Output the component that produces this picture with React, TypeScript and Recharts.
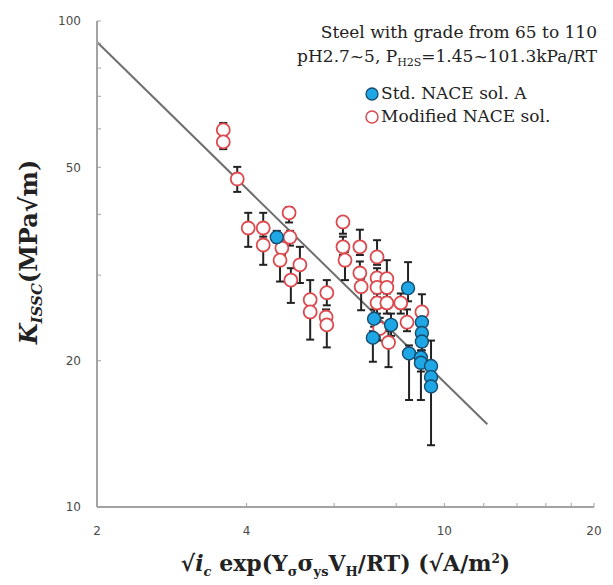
import { ScatterChart, Scatter, XAxis, YAxis, ErrorBar, ReferenceLine } from 'recharts'

// Modified NACE sol. (open red circles)
const modX = [3.59, 3.59, 3.83, 4.03, 4.32, 4.32, 4.89, 4.87, 4.71, 4.67, 5.12, 4.91, 5.37, 5.37, 5.8, 5.78, 5.8, 6.25, 6.25, 6.31, 6.76, 6.76, 6.8, 7.32, 7.32, 7.32, 7.32, 7.66, 7.66, 7.66, 8.17, 8.41, 9.01, 7.41, 7.72]
const modY = [59.7, 56.4, 47.3, 37.5, 37.5, 34.6, 35.9, 40.3, 34.1, 32.2, 31.5, 29.3, 26.7, 25.2, 27.6, 24.6, 23.7, 38.6, 34.3, 32.2, 34.3, 30.3, 28.4, 32.7, 29.6, 28.3, 26.3, 29.5, 28.3, 26.3, 26.3, 24.0, 25.2, 23.3, 21.8]
const modLo = [58.0, 54.5, 44.5, 34.3, 35.5, 31.5, 34.5, 38.5, 33.0, 29.1, 28.9, 26.3, 25.5, 22.1, 26.0, 23.8, 21.3, 36.5, 33.0, 29.3, 33.0, 29.0, 25.4, 31.5, 28.5, 27.0, 25.0, 28.5, 27.0, 25.0, 25.0, 23.0, 24.0, 22.0, 19.4]
const modHi = [61.7, 58.0, 50.1, 40.3, 40.3, 36.0, 37.0, 41.4, 35.5, 33.5, 34.3, 31.0, 29.3, 26.0, 29.3, 25.5, 24.5, 39.5, 36.0, 33.5, 37.2, 32.0, 29.5, 35.4, 31.0, 29.5, 27.5, 32.2, 29.5, 27.5, 27.5, 25.5, 27.4, 24.5, 23.0]

// Std. NACE sol. A (filled blue circles)
const stdX = [4.6, 7.22, 7.18, 7.81, 8.45, 8.49, 9.01, 9.01, 9.01, 8.97, 8.97, 9.4, 9.4, 9.4]
const stdY = [35.9, 24.4, 22.3, 23.7, 28.2, 20.7, 24.0, 22.8, 21.9, 20.3, 19.8, 19.5, 18.5, 17.7]
const stdLo = [35.0, 23.5, 19.9, 22.5, 26.5, 16.6, 23.0, 22.0, 21.0, 16.6, 19.0, 18.5, 17.5, 13.4]
const stdHi = [37.0, 25.5, 23.0, 25.0, 31.9, 21.5, 25.5, 24.0, 23.0, 21.0, 20.5, 22.0, 19.5, 18.5]

// fitted line end points
const fitX = [2, 12.2]
const fitY = [90.5, 14.8]

const xTicks = [2, 4, 6, 8, 10, 12, 14, 16, 18, 20]
const xLabels = [2, 4, 10, 20]
const yTicks = [10, 20, 30, 40, 50, 60, 70, 80, 90, 100]
const yLabels = [10, 20, 50, 100]

const rows = (xs: number[], ys: number[], lo: number[], hi: number[]) =>
    xs.map((x, i) => ({ x, y: ys[i], err: [ys[i] - lo[i], hi[i] - ys[i]] }))

const modData = rows(modX, modY, modLo, modHi)
const stdData = rows(stdX, stdY, stdLo, stdHi)

const RED = '#dc4a4f'
const BLUE = '#1ea7e4'
const AXIS = '#a3a3a3'
const serif = '"DejaVu Serif", serif'

const OpenDot = (p: any) => (
    <circle cx={p.cx} cy={p.cy} r={6.5} fill="#fff" stroke={RED} strokeWidth={1.8} />
)
const BlueDot = (p: any) => (
    <circle cx={p.cx} cy={p.cy} r={6.5} fill={BLUE} stroke="#174c6e" strokeWidth={1.4} />
)

const tickStyle = { fontSize: 12, fontFamily: '"DejaVu Sans", sans-serif', fill: '#4a4a4a' }

export default function App() {
    return (
        <div style={{ position: 'absolute', left: 0, top: 0, width: 613, height: 585, background: '#fff' }}>
            <ScatterChart width={613} height={585} margin={{ top: 21, right: 19, bottom: 0, left: 0 }}>
                <XAxis
                    type="number"
                    dataKey="x"
                    scale="log"
                    domain={[2, 20]}
                    allowDataOverflow
                    ticks={xTicks}
                    interval={0}
                    tickFormatter={(v: number) => (xLabels.includes(v) ? String(v) : '')}
                    height={78}
                    axisLine={{ stroke: AXIS, strokeWidth: 2 }}
                    tickLine={{ stroke: AXIS }}
                    tickSize={-4}
                    tickMargin={23}
                    tick={tickStyle}
                />
                <YAxis
                    type="number"
                    dataKey="y"
                    scale="log"
                    domain={[10, 100]}
                    allowDataOverflow
                    ticks={yTicks}
                    interval={0}
                    tickFormatter={(v: number) => (yLabels.includes(v) ? String(v) : '')}
                    width={97}
                    axisLine={{ stroke: AXIS, strokeWidth: 2 }}
                    tickLine={{ stroke: AXIS }}
                    tickSize={-4}
                    tickMargin={20}
                    tick={tickStyle}
                />
                <ReferenceLine
                    segment={[
                        { x: fitX[0], y: fitY[0] },
                        { x: fitX[1], y: fitY[1] },
                    ]}
                    stroke="#6f6f6f"
                    strokeWidth={2}
                    ifOverflow="visible"
                />
                <Scatter data={modData} shape={OpenDot} isAnimationActive={false}>
                    <ErrorBar dataKey="err" direction="y" width={4} stroke="#222" strokeWidth={2} isAnimationActive={false} />
                </Scatter>
                <Scatter data={stdData} shape={BlueDot} isAnimationActive={false}>
                    <ErrorBar dataKey="err" direction="y" width={4} stroke="#222" strokeWidth={2} isAnimationActive={false} />
                </Scatter>
            </ScatterChart>

            {/* legend block */}
            <div
                style={{
                    position: 'absolute',
                    right: 16,
                    top: 20,
                    textAlign: 'right',
                    fontFamily: serif,
                    fontSize: 17,
                    lineHeight: '24px',
                    color: '#222',
                    whiteSpace: 'nowrap',
                }}
            >
                <div>Steel with grade from 65 to 110</div>
                <div>
                    pH2.7~5, P<sub style={{ fontSize: 11 }}>H2S</sub>=1.45~101.3kPa/RT
                </div>
            </div>
            <div
                style={{
                    position: 'absolute',
                    left: 364,
                    top: 82,
                    fontFamily: serif,
                    fontSize: 17,
                    lineHeight: '23px',
                    color: '#222',
                    whiteSpace: 'nowrap',
                }}
            >
                <div style={{ display: 'flex', alignItems: 'center' }}>
                    <svg width={16} height={16}>
                        <circle cx={8} cy={8} r={6} fill={BLUE} stroke="#174c6e" strokeWidth={1.3} />
                    </svg>
                    <span style={{ marginLeft: 1 }}>Std. NACE sol. A</span>
                </div>
                <div style={{ display: 'flex', alignItems: 'center' }}>
                    <svg width={16} height={16}>
                        <circle cx={8} cy={8} r={6} fill="#fff" stroke={RED} strokeWidth={1.5} />
                    </svg>
                    <span style={{ marginLeft: 1 }}>Modified NACE sol.</span>
                </div>
            </div>

            {/* y axis title */}
            <div
                style={{
                    position: 'absolute',
                    left: 30,
                    top: 252,
                    transform: 'translate(-50%, -50%) rotate(-90deg)',
                    fontFamily: serif,
                    fontSize: 24,
                    fontWeight: 'bold',
                    color: '#222',
                    whiteSpace: 'nowrap',
                }}
            >
                <i>K</i>
                <sub style={{ fontSize: 15 }}>
                    <i>ISSC</i>
                </sub>
                (MPa√m)
            </div>

            {/* x axis title */}
            <div
                style={{
                    position: 'absolute',
                    left: 97,
                    width: 497,
                    top: 550,
                    textAlign: 'center',
                    fontFamily: serif,
                    fontSize: 22,
                    fontWeight: 'bold',
                    color: '#222',
                    whiteSpace: 'nowrap',
                }}
            >
                √<i>i</i>
                <sub style={{ fontSize: 13 }}>
                    <i>c</i>
                </sub>{' '}
                exp(Y<sub style={{ fontSize: 13 }}>σ</sub>σ<sub style={{ fontSize: 13 }}>ys</sub>V
                <sub style={{ fontSize: 13 }}>H</sub>/RT) (√A/m<sup style={{ fontSize: 12 }}>2</sup>)
            </div>
        </div>
    )
}
